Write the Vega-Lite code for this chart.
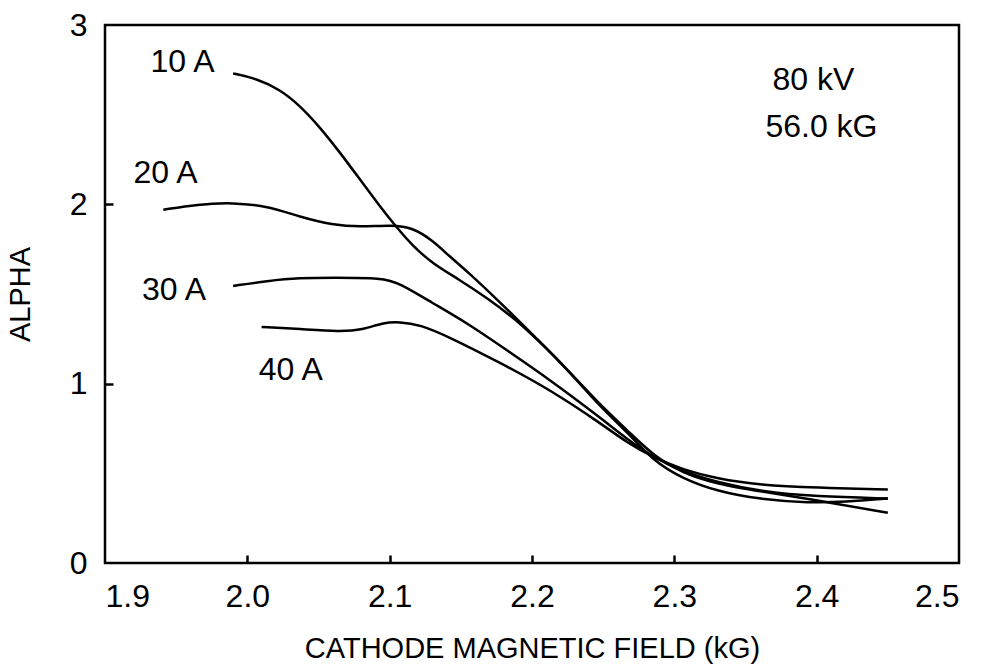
{
  "$schema": "https://vega.github.io/schema/vega-lite/v6.json",
  "width": 854,
  "height": 538,
  "autosize": {"type": "none"},
  "padding": {"left": 105, "top": 25, "right": 27, "bottom": 103},
  "background": "white",
  "config": {
    "view": {"stroke": "black", "strokeWidth": 2.5},
    "font": "Liberation Sans",
    "axis": {
      "domain": false,
      "grid": false,
      "tickColor": "black",
      "tickWidth": 2.5,
      "labelColor": "black",
      "titleColor": "black",
      "labelFont": "Liberation Sans",
      "titleFont": "Liberation Sans",
      "labelFontSize": 32,
      "titleFontSize": 29,
      "titleFontWeight": "normal"
    }
  },
  "datasets": {
    "curves": [
      {"series": "10 A", "x": 1.990, "y": 2.73},
      {"series": "10 A", "x": 2.007, "y": 2.70},
      {"series": "10 A", "x": 2.023, "y": 2.64},
      {"series": "10 A", "x": 2.037, "y": 2.55},
      {"series": "10 A", "x": 2.051, "y": 2.43},
      {"series": "10 A", "x": 2.065, "y": 2.29},
      {"series": "10 A", "x": 2.079, "y": 2.14},
      {"series": "10 A", "x": 2.093, "y": 1.99},
      {"series": "10 A", "x": 2.105, "y": 1.87},
      {"series": "10 A", "x": 2.116, "y": 1.77},
      {"series": "10 A", "x": 2.130, "y": 1.67},
      {"series": "10 A", "x": 2.149, "y": 1.58},
      {"series": "10 A", "x": 2.168, "y": 1.48},
      {"series": "10 A", "x": 2.192, "y": 1.34},
      {"series": "10 A", "x": 2.225, "y": 1.08},
      {"series": "10 A", "x": 2.248, "y": 0.87},
      {"series": "10 A", "x": 2.267, "y": 0.73},
      {"series": "10 A", "x": 2.285, "y": 0.57},
      {"series": "10 A", "x": 2.306, "y": 0.47},
      {"series": "10 A", "x": 2.330, "y": 0.40},
      {"series": "10 A", "x": 2.360, "y": 0.355},
      {"series": "10 A", "x": 2.395, "y": 0.335},
      {"series": "10 A", "x": 2.420, "y": 0.34},
      {"series": "10 A", "x": 2.450, "y": 0.36},
      {"series": "20 A", "x": 1.941, "y": 1.97},
      {"series": "20 A", "x": 1.965, "y": 2.00},
      {"series": "20 A", "x": 1.990, "y": 2.01},
      {"series": "20 A", "x": 2.014, "y": 1.99},
      {"series": "20 A", "x": 2.037, "y": 1.93},
      {"series": "20 A", "x": 2.060, "y": 1.885},
      {"series": "20 A", "x": 2.079, "y": 1.874},
      {"series": "20 A", "x": 2.102, "y": 1.885},
      {"series": "20 A", "x": 2.116, "y": 1.87},
      {"series": "20 A", "x": 2.130, "y": 1.80},
      {"series": "20 A", "x": 2.142, "y": 1.71},
      {"series": "20 A", "x": 2.154, "y": 1.63},
      {"series": "20 A", "x": 2.178, "y": 1.45},
      {"series": "20 A", "x": 2.192, "y": 1.34},
      {"series": "20 A", "x": 2.225, "y": 1.08},
      {"series": "20 A", "x": 2.248, "y": 0.88},
      {"series": "20 A", "x": 2.267, "y": 0.74},
      {"series": "20 A", "x": 2.285, "y": 0.60},
      {"series": "20 A", "x": 2.306, "y": 0.50},
      {"series": "20 A", "x": 2.330, "y": 0.44},
      {"series": "20 A", "x": 2.360, "y": 0.40},
      {"series": "20 A", "x": 2.400, "y": 0.35},
      {"series": "20 A", "x": 2.450, "y": 0.28},
      {"series": "30 A", "x": 1.990, "y": 1.545},
      {"series": "30 A", "x": 2.014, "y": 1.573},
      {"series": "30 A", "x": 2.037, "y": 1.59},
      {"series": "30 A", "x": 2.060, "y": 1.59},
      {"series": "30 A", "x": 2.095, "y": 1.59},
      {"series": "30 A", "x": 2.107, "y": 1.56},
      {"series": "30 A", "x": 2.130, "y": 1.45},
      {"series": "30 A", "x": 2.154, "y": 1.34},
      {"series": "30 A", "x": 2.178, "y": 1.21},
      {"series": "30 A", "x": 2.213, "y": 1.02},
      {"series": "30 A", "x": 2.248, "y": 0.81},
      {"series": "30 A", "x": 2.267, "y": 0.69},
      {"series": "30 A", "x": 2.285, "y": 0.59},
      {"series": "30 A", "x": 2.306, "y": 0.51},
      {"series": "30 A", "x": 2.330, "y": 0.45},
      {"series": "30 A", "x": 2.360, "y": 0.40},
      {"series": "30 A", "x": 2.400, "y": 0.37},
      {"series": "30 A", "x": 2.450, "y": 0.36},
      {"series": "40 A", "x": 2.010, "y": 1.316},
      {"series": "40 A", "x": 2.037, "y": 1.305},
      {"series": "40 A", "x": 2.065, "y": 1.29},
      {"series": "40 A", "x": 2.081, "y": 1.30},
      {"series": "40 A", "x": 2.095, "y": 1.34},
      {"series": "40 A", "x": 2.107, "y": 1.345},
      {"series": "40 A", "x": 2.121, "y": 1.33},
      {"series": "40 A", "x": 2.142, "y": 1.26},
      {"series": "40 A", "x": 2.178, "y": 1.115},
      {"series": "40 A", "x": 2.213, "y": 0.965},
      {"series": "40 A", "x": 2.248, "y": 0.78},
      {"series": "40 A", "x": 2.267, "y": 0.67},
      {"series": "40 A", "x": 2.285, "y": 0.59},
      {"series": "40 A", "x": 2.306, "y": 0.52},
      {"series": "40 A", "x": 2.330, "y": 0.47},
      {"series": "40 A", "x": 2.360, "y": 0.435},
      {"series": "40 A", "x": 2.400, "y": 0.42},
      {"series": "40 A", "x": 2.450, "y": 0.41}
    ],
    "labels": [
      {"text": "10 A", "x": 1.932, "y": 2.74},
      {"text": "20 A", "x": 1.920, "y": 2.12},
      {"text": "30 A", "x": 1.926, "y": 1.467},
      {"text": "40 A", "x": 2.008, "y": 1.02},
      {"text": "80 kV", "x": 2.369, "y": 2.64},
      {"text": "56.0 kG", "x": 2.364, "y": 2.376}
    ]
  },
  "resolve": {"axis": {"x": "independent", "y": "independent"}},
  "layer": [
    {
      "data": {"name": "curves"},
      "mark": {"type": "line", "color": "black", "strokeWidth": 2.5, "interpolate": "basis"},
      "encoding": {
        "x": {
          "field": "x", "type": "quantitative",
          "scale": {"domain": [1.9, 2.5], "nice": false, "zero": false},
          "axis": {
            "title": "CATHODE MAGNETIC FIELD (kG)",
            "values": [1.9, 2.0, 2.1, 2.2, 2.3, 2.4, 2.5],
            "format": ".1f",
            "ticks": false,
            "labelPadding": 18,
            "titlePadding": 22
          }
        },
        "y": {
          "field": "y", "type": "quantitative",
          "scale": {"domain": [0, 3], "nice": false},
          "axis": {
            "title": "ALPHA",
            "values": [0, 1, 2, 3],
            "format": "d",
            "ticks": false,
            "labelPadding": 18,
            "titlePadding": 34
          }
        },
        "detail": {"field": "series"}
      }
    },
    {
      "data": {"name": "labels"},
      "mark": {"type": "text", "align": "left", "baseline": "alphabetic", "fontSize": 32, "font": "Liberation Sans", "color": "black"},
      "encoding": {
        "x": {
          "field": "x", "type": "quantitative",
          "axis": {
            "orient": "top",
            "offset": -538,
            "values": [2.0, 2.1, 2.2, 2.3, 2.4],
            "labels": false,
            "title": null,
            "tickSize": 8
          }
        },
        "y": {
          "field": "y", "type": "quantitative",
          "axis": {
            "orient": "right",
            "offset": -854,
            "values": [1, 2],
            "labels": false,
            "title": null,
            "tickSize": 8
          }
        },
        "text": {"field": "text"}
      }
    }
  ]
}
